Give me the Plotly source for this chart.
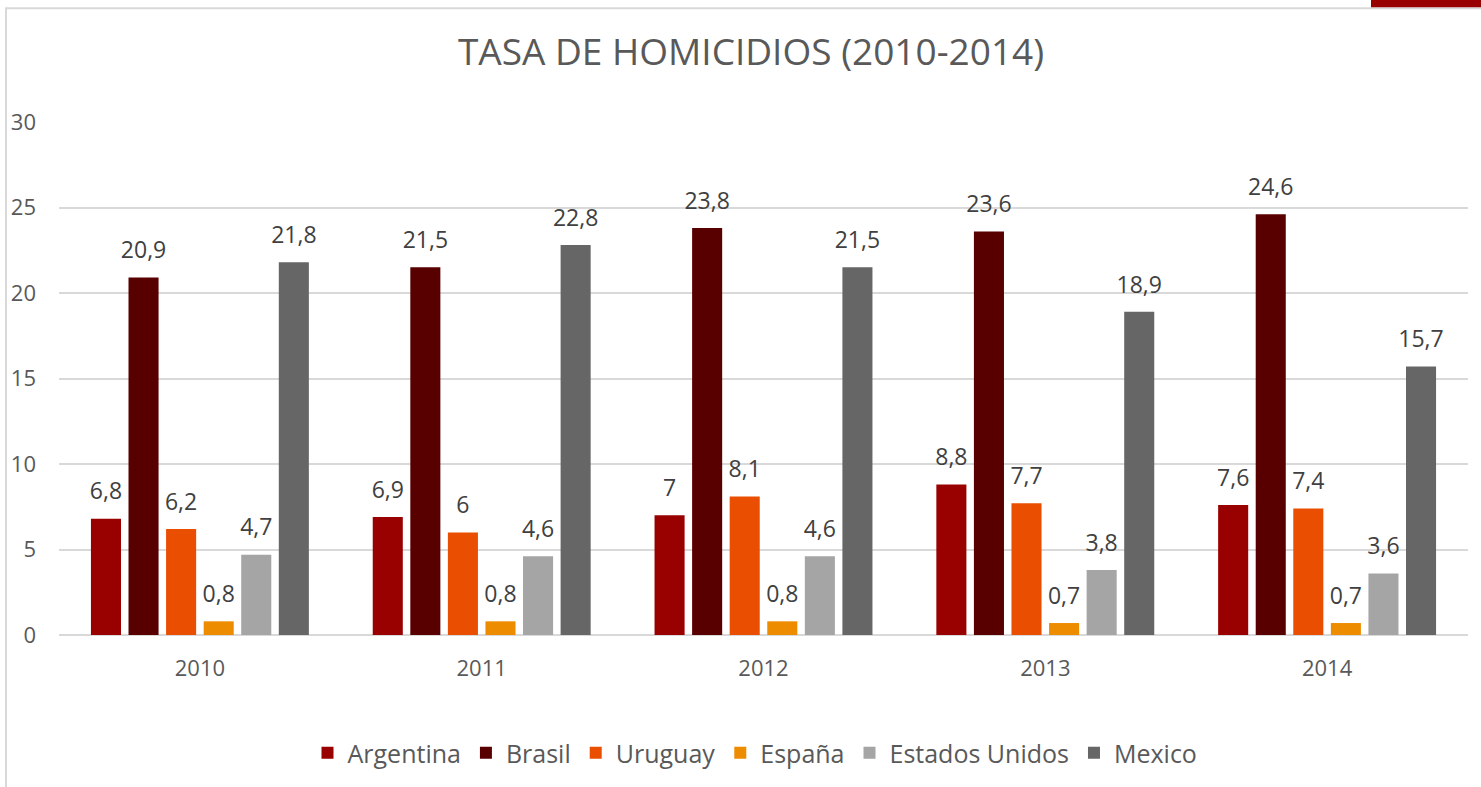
import plotly.graph_objects as go

# ── Data ───────────────────────────────────────────────────────────────────────
years = ['2010', '2011', '2012', '2013', '2014']
countries = ['Argentina', 'Brasil', 'Uruguay', 'España', 'Estados Unidos', 'Mexico']
argentina = [6.8, 6.9, 7.0, 8.8, 7.6]
brasil = [20.9, 21.5, 23.8, 23.6, 24.6]
uruguay = [6.2, 6.0, 8.1, 7.7, 7.4]
espana = [0.8, 0.8, 0.8, 0.7, 0.7]
estados_unidos = [4.7, 4.6, 4.6, 3.8, 3.6]
mexico = [21.8, 22.8, 21.5, 18.9, 15.7]

series = [argentina, brasil, uruguay, espana, estados_unidos, mexico]
colors = ['#990000', '#580000', '#EA4E00', '#EE8C00', '#A5A5A5', '#666666']

# ── Layout geometry (pixels) ───────────────────────────────────────────────────
W, H = 1481, 787
M_L, M_R, M_T, M_B = 59, 13, 122, 151
PW, PH = W - M_L - M_R, H - M_T - M_B


def px_x(x):
    return (x - M_L) / PW


def px_y(y):
    return (H - M_B - y) / PH


def fmt(v):
    return f'{v:g}'.replace('.', ',')


fig = go.Figure()
for name, vals, col in zip(countries, series, colors):
    fig.add_trace(go.Bar(
        name=name, x=years, y=vals,
        marker=dict(color=col, line=dict(width=0)),
        hoverinfo='skip'
    ))

# data labels (invisible markers push the text a bit above the bar)
for name, vals in zip(countries, series):
    fig.add_trace(go.Scatter(
        x=years, y=vals, mode='markers+text',
        text=[fmt(v) for v in vals],
        textposition='top center',
        textfont=dict(size=23, color='#404040'),
        marker=dict(size=20, opacity=0),
        orientation='v',
        showlegend=False, hoverinfo='skip', cliponaxis=False
    ))

fig.update_layout(
    width=W, height=H,
    barmode='group', bargap=0.2, bargroupgap=0.2,
    scattermode='group', scattergap=0.2,
    paper_bgcolor='white', plot_bgcolor='white',
    font=dict(family='Open Sans', color='#595959'),
    title=dict(text='TASA DE HOMICIDIOS (2010-2014)', x=px_x(751), xref='paper',
               xanchor='center', y=1 - 52 / H, yanchor='middle',
               font=dict(size=37, color='#595959')),
    margin=dict(l=M_L, r=M_R, t=M_T, b=M_B),
    legend=dict(orientation='h', x=px_x(755), xanchor='center',
                y=px_y(753), yanchor='middle', itemwidth=30,
                font=dict(size=25, color='#595959'),
                itemclick=False),
    xaxis=dict(type='category', showgrid=False, showline=False, ticks='',
               tickfont=dict(size=22, color='#595959'), ticklabelstandoff=18),
    yaxis=dict(range=[0, 30], dtick=5, showgrid=True, gridcolor='#D9D9D9',
               gridwidth=1.5, zeroline=True, zerolinecolor='#D9D9D9',
               zerolinewidth=1.5, showline=False, ticks='',
               tickfont=dict(size=22, color='#595959'), ticklabelstandoff=22),
    shapes=[
        dict(type='rect', xref='paper', yref='paper',
             x0=px_x(6), x1=px_x(W + 20), y0=px_y(H + 20), y1=px_y(8),
             line=dict(color='#D9D9D9', width=2), layer='below'),
        dict(type='rect', xref='paper', yref='paper',
             x0=px_x(1371), x1=px_x(W + 5), y0=px_y(7), y1=px_y(-5),
             fillcolor='#990000', line=dict(width=0)),
    ],
)

fig.write_html('out.html', config={'displayModeBar': False},
               post_script="document.body.style.margin='0';")
